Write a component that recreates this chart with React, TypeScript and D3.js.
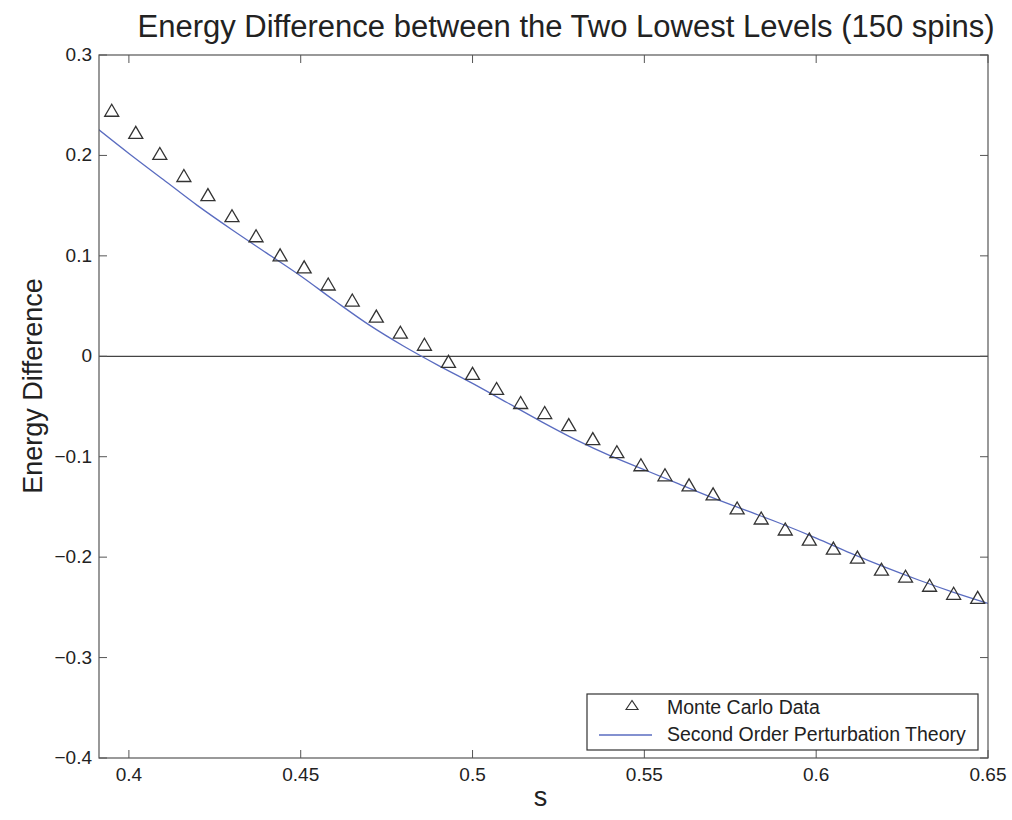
import React, { useEffect, useRef } from 'react';
import * as d3 from 'd3';

// Monte Carlo points
const sMC = [0.395, 0.402, 0.409, 0.416, 0.423, 0.430, 0.437, 0.444, 0.451, 0.458,
  0.465, 0.472, 0.479, 0.486, 0.493, 0.500, 0.507, 0.514, 0.521, 0.528,
  0.535, 0.542, 0.549, 0.556, 0.563, 0.570, 0.577, 0.584, 0.591, 0.598,
  0.605, 0.612, 0.619, 0.626, 0.633, 0.640, 0.647];
const eMC = [0.245, 0.223, 0.202, 0.180, 0.161, 0.140, 0.120, 0.101, 0.089, 0.072,
  0.056, 0.040, 0.024, 0.012, -0.005, -0.017, -0.032, -0.046, -0.056, -0.068,
  -0.082, -0.095, -0.108, -0.118, -0.128, -0.137, -0.151, -0.161, -0.172, -0.182,
  -0.191, -0.200, -0.212, -0.219, -0.228, -0.236, -0.240];

// second order perturbation theory curve
const sTheory = [0.39, 0.40, 0.41, 0.42, 0.43, 0.44, 0.45, 0.46, 0.47, 0.48,
  0.49, 0.50, 0.51, 0.52, 0.53, 0.54, 0.55, 0.56, 0.57, 0.58,
  0.59, 0.60, 0.61, 0.62, 0.63, 0.64, 0.65];
const eTheory = [0.229, 0.202, 0.176, 0.150, 0.126, 0.103, 0.080, 0.055, 0.031, 0.010,
  -0.009, -0.027, -0.046, -0.065, -0.083, -0.099, -0.113, -0.127, -0.141, -0.154,
  -0.167, -0.181, -0.196, -0.210, -0.223, -0.235, -0.246];

const xTicks = [0.4, 0.45, 0.5, 0.55, 0.6, 0.65];
const yTicks = [-0.4, -0.3, -0.2, -0.1, 0, 0.1, 0.2, 0.3];
const legendLabels = ['Monte Carlo Data', 'Second Order Perturbation Theory'];

const W = 1012, H = 820;
const left = 99, right = 988, top = 55, bottom = 758;
const font = 'Liberation Sans, Arial, Helvetica, sans-serif';
const blue = '#5a6cc0';
const axisColor = '#555';

const fmt = (v: number) => {
  const s = d3.format('')(Math.round(v * 100) / 100);
  return s.replace('-', '\u2212');
};

const tri = (cx: number, cy: number, w: number, h: number) =>
  `M${cx - w / 2},${cy + h / 2}L${cx},${cy - h / 2}L${cx + w / 2},${cy + h / 2}Z`;

const App = () => {
  const ref = useRef<SVGSVGElement>(null);

  useEffect(() => {
    const svg = d3.select(ref.current);
    svg.selectAll('*').remove();

    const x = d3.scaleLinear().domain([0.3913, 0.65]).range([left, right]);
    const y = d3.scaleLinear().domain([-0.4, 0.3]).range([bottom, top]);

    svg.append('rect').attr('width', W).attr('height', H).attr('fill', '#fff');

    svg.append('defs').append('clipPath').attr('id', 'plot')
      .append('rect').attr('x', left).attr('y', top)
      .attr('width', right - left).attr('height', bottom - top);

    // zero line
    svg.append('line')
      .attr('x1', left).attr('x2', right)
      .attr('y1', y(0)).attr('y2', y(0))
      .attr('stroke', '#444').attr('stroke-width', 1.2);

    // theory curve
    const line = d3.line<number>()
      .x((d, i) => x(sTheory[i]))
      .y(d => y(d))
      .curve(d3.curveMonotoneX);
    svg.append('path')
      .datum(eTheory)
      .attr('clip-path', 'url(#plot)')
      .attr('d', line)
      .attr('fill', 'none')
      .attr('stroke', blue)
      .attr('stroke-width', 1.3);

    // monte carlo triangles
    svg.append('g').selectAll('path')
      .data(eMC)
      .enter()
      .append('path')
      .attr('d', (d, i) => tri(x(sMC[i]), y(d), 14, 12))
      .attr('fill', 'none')
      .attr('stroke', '#333')
      .attr('stroke-width', 1.3);

    // axes box
    svg.append('rect')
      .attr('x', left).attr('y', top)
      .attr('width', right - left).attr('height', bottom - top)
      .attr('fill', 'none').attr('stroke', axisColor).attr('stroke-width', 1.2);

    const tl = 8;
    xTicks.forEach(t => {
      const px = x(t);
      svg.append('line').attr('x1', px).attr('x2', px).attr('y1', bottom).attr('y2', bottom - tl)
        .attr('stroke', axisColor);
      svg.append('line').attr('x1', px).attr('x2', px).attr('y1', top).attr('y2', top + tl)
        .attr('stroke', axisColor);
      svg.append('text').attr('x', px).attr('y', bottom + 23)
        .attr('text-anchor', 'middle').attr('font-family', font).attr('font-size', 19)
        .attr('fill', '#222').text(fmt(t));
    });
    yTicks.forEach(t => {
      const py = y(t);
      svg.append('line').attr('x1', left).attr('x2', left + tl).attr('y1', py).attr('y2', py)
        .attr('stroke', axisColor);
      svg.append('line').attr('x1', right).attr('x2', right - tl).attr('y1', py).attr('y2', py)
        .attr('stroke', axisColor);
      svg.append('text').attr('x', left - 7).attr('y', py + 6)
        .attr('text-anchor', 'end').attr('font-family', font).attr('font-size', 19)
        .attr('fill', '#222').text(fmt(t));
    });

    // title and labels
    svg.append('text').attr('x', 566).attr('y', 37)
      .attr('text-anchor', 'middle').attr('font-family', font).attr('font-size', 31)
      .attr('fill', '#222').text('Energy Difference between the Two Lowest Levels (150 spins)');
    svg.append('text').attr('x', (left + right) / 2 - 3).attr('y', 806)
      .attr('text-anchor', 'middle').attr('font-family', font).attr('font-size', 27)
      .attr('fill', '#222').text('s');
    svg.append('text')
      .attr('transform', 'translate(42,386) rotate(-90)')
      .attr('text-anchor', 'middle').attr('font-family', font).attr('font-size', 27)
      .attr('fill', '#222').text('Energy Difference');

    // legend
    const lg = svg.append('g');
    lg.append('rect').attr('x', 587).attr('y', 694).attr('width', 391).attr('height', 56)
      .attr('fill', '#fff').attr('stroke', '#333').attr('stroke-width', 1.2);
    lg.append('path').attr('d', tri(632, 705, 12, 9))
      .attr('fill', 'none').attr('stroke', '#333').attr('stroke-width', 1.2);
    lg.append('line').attr('x1', 599).attr('x2', 652).attr('y1', 735).attr('y2', 735)
      .attr('stroke', blue).attr('stroke-width', 1.3);
    legendLabels.forEach((l, i) => {
      lg.append('text').attr('x', 667).attr('y', 714 + i * 27)
        .attr('font-family', font).attr('font-size', 19.5).attr('fill', '#222').text(l);
    });
  }, []);

  return (
    <svg ref={ref} width={W} height={H}
      style={{ position: 'absolute', left: 0, top: 0, display: 'block' }} />
  );
};

export default App;
